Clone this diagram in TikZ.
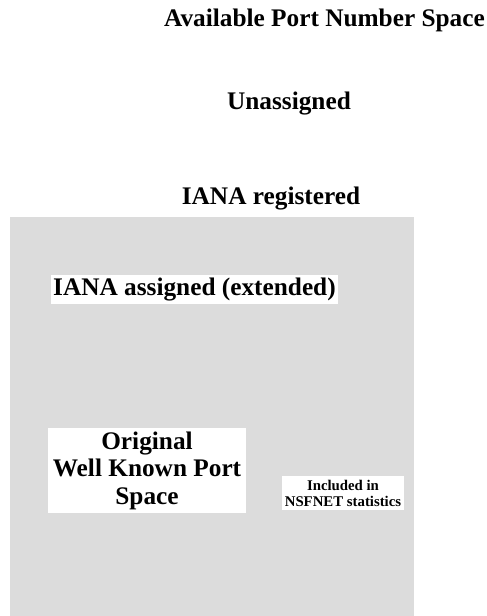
\documentclass[tikz,border=0pt]{standalone}
\usepackage{fontspec}
\setmainfont{Liberation Serif}
\definecolor{space}{HTML}{DCDCDC}
\tikzset{lbl/.style={font=\fontsize{25.3}{27.5}\selectfont\bfseries,inner sep=0pt},
  box/.style={lbl,fill=white,align=center},
  small/.style={box,font=\fontsize{14.8}{16}\selectfont\bfseries}}

\begin{document}
\begin{tikzpicture}[x=1pt,y=-1pt]
        \useasboundingbox (0,0) rectangle (487,616);
        \fill[space] (10,217) rectangle (414,616);
        \node[lbl,anchor=base] (title) at (324.5,26) {Available Port Number Space};
        \node[lbl,anchor=base] (unassigned) at (289,109) {Unassigned};
        \node[lbl,anchor=base] (registered) at (271,204) {IANA registered};
        \node[box,minimum width=287pt,minimum height=29pt] (assigned) at (194.5,289.5) {IANA assigned (extended)};
        \node[box,minimum width=198pt,minimum height=85pt] (original) at (147,470.5) {Original\\Well Known Port\\Space};
        \node[small,minimum width=122pt,minimum height=34pt] (nsfnet) at (343,493) {Included in\\NSFNET statistics};
    \end{tikzpicture}
\end{document}
